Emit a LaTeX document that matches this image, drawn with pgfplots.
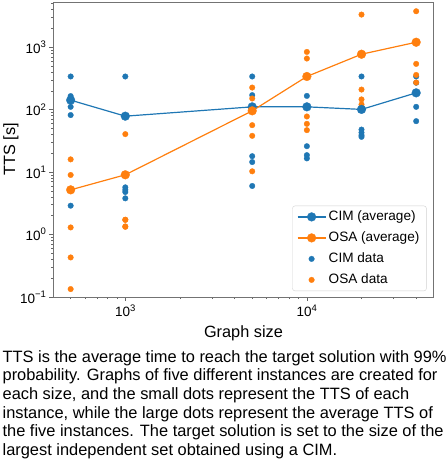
\documentclass[border=0pt]{standalone}
\usepackage{pgfplots}
\pgfplotsset{compat=1.18}
\usepackage{fontspec}
\setmainfont{Liberation Sans}
\definecolor{tabblue}{RGB}{31,119,180}
\definecolor{taborange}{RGB}{255,127,14}
\newcommand\sups[1]{\raisebox{0.42em}{\fontsize{9.5}{9.5}\selectfont #1}}

\pgfplotsset{
  dot legend/.style={legend image code/.code={%
    \draw[mark repeat=2,mark phase=2,##1] plot coordinates {(0pt,0pt) (14pt,0pt) (28pt,0pt)};}},
  cimavg/.style={tabblue, line width=1.2pt, mark=*, mark size=4.4pt,
    mark options={solid, draw=tabblue, fill=tabblue, line width=0.3pt}, dot legend},
  osaavg/.style={taborange, line width=1.2pt, mark=*, mark size=4.4pt,
    mark options={solid, draw=taborange, fill=taborange, line width=0.3pt}, dot legend},
  cimdata/.style={tabblue, only marks, mark=*, mark size=2.8pt,
    mark options={draw=tabblue, fill=tabblue, line width=0.3pt}, dot legend},
  osadata/.style={taborange, only marks, mark=*, mark size=2.8pt,
    mark options={draw=taborange, fill=taborange, line width=0.3pt}, dot legend},
}

% TTS of the five instances per graph size
\pgfplotstableread{
n      tts
500    340
500    165
500    111
500    82
500    2.9
1000   340
1000   5.7
1000   5.2
1000   4.8
1000   3.8
5000   340
5000   171
5000   18
5000   14.5
5000   6.0
10000  340
10000  166
10000  26
10000  18.7
10000  16.6
20000  340
20000  48
20000  43
20000  39
20000  36.7
40000  340
40000  270
40000  186
40000  111
40000  65.5
}\cimdata
\pgfplotstableread{
n      tts
500    16
500    9.0
500    1.3
500    0.43
500    0.134
1000   40.6
1000   1.73
1000   1.72
1000   1.35
1000   1.33
5000   226
5000   151
5000   56.5
5000   38.1
5000   10.3
10000  841
10000  659
10000  77.8
10000  59.3
10000  47
20000  3335
20000  210
20000  146
20000  121
20000  100
40000  3767
40000  1200
40000  541
40000  360
40000  272
}\osadata
% average TTS per graph size
\pgfplotstableread{
n      tts
500    142
1000   78.7
5000   111
10000  111
20000  101
40000  186
}\cimavg
\pgfplotstableread{
n      tts
500    5.2
1000   9.06
5000   95.8
10000  340
20000  773
40000  1202
}\osaavg

\begin{document}
\begin{tikzpicture}
\begin{axis}[
  at={(0pt,0pt)}, anchor=south west,
  scale only axis, width=380pt, height=295pt,
  xmode=log, ymode=log,
  xmin=402, xmax=49800, ymin=0.1, ymax=5300,
  xtick={1000,10000}, xticklabels={10\sups{3},10\sups{4}},
  minor xtick={500,600,700,800,900,2000,3000,4000,5000,6000,7000,8000,9000,20000,30000,40000},
  ytick={0.1,1,10,100,1000},
  yticklabels={10\sups{−1},10\sups{0},10\sups{1},10\sups{2},10\sups{3}},
  minor ytick={0.2,0.3,0.4,0.5,0.6,0.7,0.8,0.9,2,3,4,5,6,7,8,9,20,30,40,50,60,70,80,90,200,300,400,500,600,700,800,900,2000,3000,4000,5000},
  tick align=outside, tick pos=left,
  major tick length=4pt, minor tick length=2.2pt,
  tick style={black!60, line width=0.7pt},
  axis line style={black!55, line width=0.8pt},
  tick label style={font=\fontsize{13.5}{14}\selectfont},
  label style={font=\fontsize{16.3}{18}\selectfont},
  xlabel={Graph size}, ylabel={TTS [s]},
  xlabel style={at={(axis description cs:0.5,-0.1356)}, anchor=base},
  ylabel style={at={(axis description cs:-0.1008,0.5)}, anchor=base},
  legend cell align=left,
  legend style={at={(axis description cs:0.982,0.02)}, anchor=south east,
    draw=black!18, rounded corners=2.5pt, fill=white,
    font=\fontsize{13.6}{15}\selectfont,
    inner xsep=4.5pt, inner ysep=2pt, row sep=3pt,
    nodes={inner sep=2.5pt, text height=10pt, text depth=3pt}},
]
\addlegendimage{cimavg}\addlegendentry{CIM (average)}
\addlegendimage{osaavg}\addlegendentry{OSA (average)}
\addplot[cimdata] table[x=n, y=tts] {\cimdata};
\addlegendentry{CIM data}
\addplot[osadata] table[x=n, y=tts] {\osadata};
\addlegendentry{OSA data}
\addplot[cimavg, forget plot] table[x=n, y=tts] {\cimavg};
\addplot[osaavg, forget plot] table[x=n, y=tts] {\osaavg};
\end{axis}
\node[anchor=north west, align=left, inner sep=0pt,
      font=\fontsize{16.4}{18.7}\selectfont] at (-51pt,-53pt)
  {TTS is the average time to reach the target solution with 99\%\\
   probability. Graphs of five different instances are created for\\
   each size, and the small dots represent the TTS of each\\
   instance, while the large dots represent the average TTS of\\
   the five instances. The target solution is set to the size of the\\
   largest independent set obtained using a CIM.};
\path (-52pt,-170pt) rectangle (393pt,297pt);
\end{tikzpicture}
\end{document}
